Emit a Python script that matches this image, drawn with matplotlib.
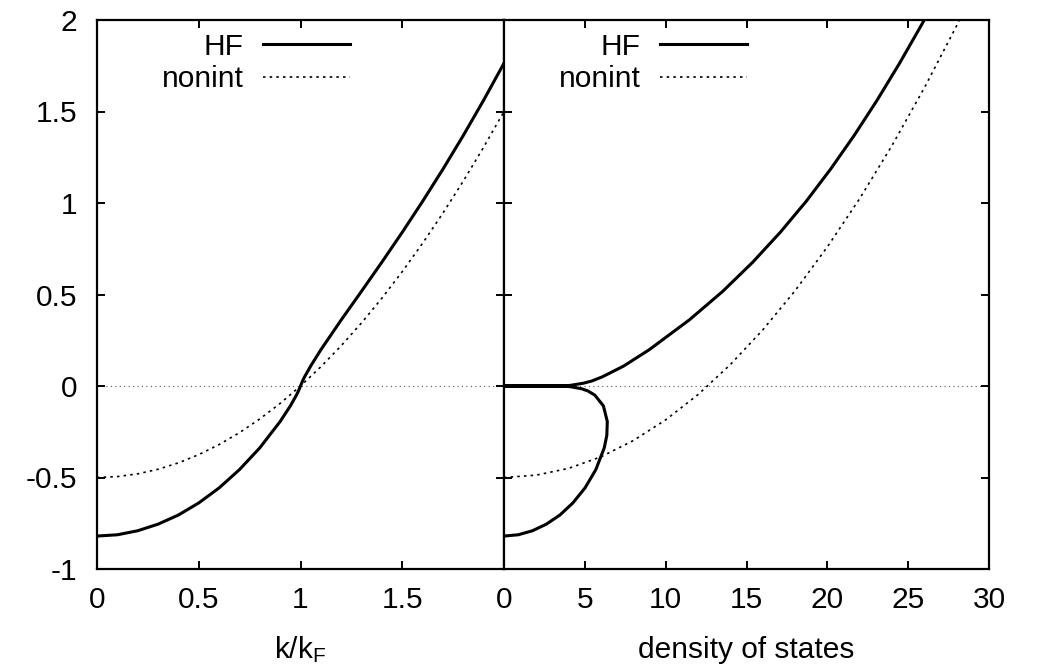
import numpy as np
import matplotlib
matplotlib.use('Agg')
import matplotlib.pyplot as plt

plt.rcParams['font.family'] = ['Liberation Sans', 'DejaVu Sans']
plt.rcParams['font.size'] = 21.5
plt.rcParams['axes.unicode_minus'] = False
plt.rcParams['mathtext.default'] = 'regular'

# panel izquierdo: energia vs k/kF
k = [0, 0.1, 0.2, 0.3, 0.4, 0.5, 0.6, 0.7, 0.8, 0.9, 0.95, 0.98, 0.99, 1.0,
     1.01, 1.02, 1.05, 1.1, 1.2, 1.3, 1.4, 1.5, 1.6, 1.7, 1.8, 1.9, 2.0]
e_hf = [-0.82, -0.813, -0.791, -0.755, -0.705, -0.639, -0.557, -0.457, -0.338,
        -0.194, -0.109, -0.050, -0.027, 0.0, 0.027, 0.050, 0.109, 0.198, 0.361,
        0.518, 0.677, 0.840, 1.009, 1.185, 1.369, 1.562, 1.764]
k_ni = [0, 0.1, 0.2, 0.3, 0.4, 0.5, 0.6, 0.7, 0.8, 0.9, 1.0,
        1.1, 1.2, 1.3, 1.4, 1.5, 1.6, 1.7, 1.8, 1.9, 2.0]
e_ni = [-0.5, -0.495, -0.48, -0.455, -0.42, -0.375, -0.32, -0.255, -0.18, -0.095, 0.0,
        0.105, 0.22, 0.345, 0.48, 0.625, 0.78, 0.945, 1.12, 1.305, 1.5]

# panel derecho: energia vs densidad de estados
dos_hf = [0, 0.88, 1.76, 2.62, 3.46, 4.26, 5.01, 5.68, 6.20, 6.36, 6.39, 6.15, 5.62,
          5.19, 4.80, 4.04, 3.27, 0.0, 3.27, 4.06, 4.90, 5.42, 6.08, 7.40, 8.98,
          11.46, 13.54, 15.39, 17.09, 18.69, 20.20, 21.66, 23.08, 24.47, 25.83, 27.18]
edos_hf = [-0.82, -0.813, -0.791, -0.755, -0.705, -0.639, -0.557, -0.457, -0.338,
           -0.270, -0.194, -0.109, -0.050, -0.027, -0.015, -0.003, 0.0, 0.0, 0.0,
           0.003, 0.015, 0.027, 0.050, 0.109, 0.198, 0.361, 0.518, 0.677, 0.840,
           1.009, 1.185, 1.369, 1.562, 1.764, 1.974, 2.194]
dos_ni = [0, 2, 4, 6, 8, 10, 12, 14, 16, 18, 20, 22, 24, 26, 28, 30]
edos_ni = [-0.5, -0.487, -0.450, -0.387, -0.298, -0.185, -0.047, 0.117, 0.306,
           0.520, 0.760, 1.024, 1.314, 1.629, 1.969, 2.334]

fig = plt.figure(figsize=(10.39, 6.67), dpi=100)
ax1 = fig.add_axes([97/1039, 1 - 569/667, 407/1039, 549/667])
ax2 = fig.add_axes([504/1039, 1 - 569/667, 485/1039, 549/667])

punteado = (0, (1.5, 2.5))

for ax in (ax1, ax2):
    ax.axhline(0, color='#555555', lw=0.8, ls=(0, (1, 3)), zorder=1)
    for s in ax.spines.values():
        s.set_linewidth(1.6)
    ax.tick_params(direction='in', top=True, right=True, length=6, width=1.4,
                   labelsize=21.5)
    ax.set_ylim(-1, 2)

ax1.plot(k, e_hf, color='black', lw=2.2, label='HF')
ax1.plot(k_ni, e_ni, color='black', lw=1.2, ls=punteado, label='nonint')
ax1.set_xlim(0, 2)
ax1.set_xticks([0, 0.5, 1, 1.5])
ax1.set_xticklabels(['0', '0.5', '1', '1.5'])
ax1.set_yticks([-1, -0.5, 0, 0.5, 1, 1.5, 2])
ax1.set_yticklabels(['-1', '-0.5', '0', '0.5', '1', '1.5', '2'])
ax1.tick_params(axis='x', pad=12)
ax1.tick_params(axis='y', pad=14)
ax1.set_xlabel(r'k/k$_F$', labelpad=15)

ax2.plot(dos_hf, edos_hf, color='black', lw=2.2, label='HF')
ax2.plot(dos_ni, edos_ni, color='black', lw=1.2, ls=punteado, label='nonint')
ax2.set_xlim(0, 30)
ax2.set_xticks([0, 5, 10, 15, 20, 25, 30])
ax2.set_yticks([-1, -0.5, 0, 0.5, 1, 1.5, 2])
ax2.tick_params(axis='y', labelleft=False)
ax2.tick_params(axis='x', pad=12)
ax2.set_xlabel('density of states', labelpad=16)

for ax, xr in ((ax1, (350 - 97) / 407), (ax2, (747 - 504) / 485)):
    ax.legend(loc='upper right', bbox_to_anchor=(xr, 0.977), frameon=False,
              markerfirst=False, handlelength=2.9, handletextpad=0.65,
              labelspacing=0.15, borderpad=0, borderaxespad=0)

fig.savefig('out.png', dpi=100)
